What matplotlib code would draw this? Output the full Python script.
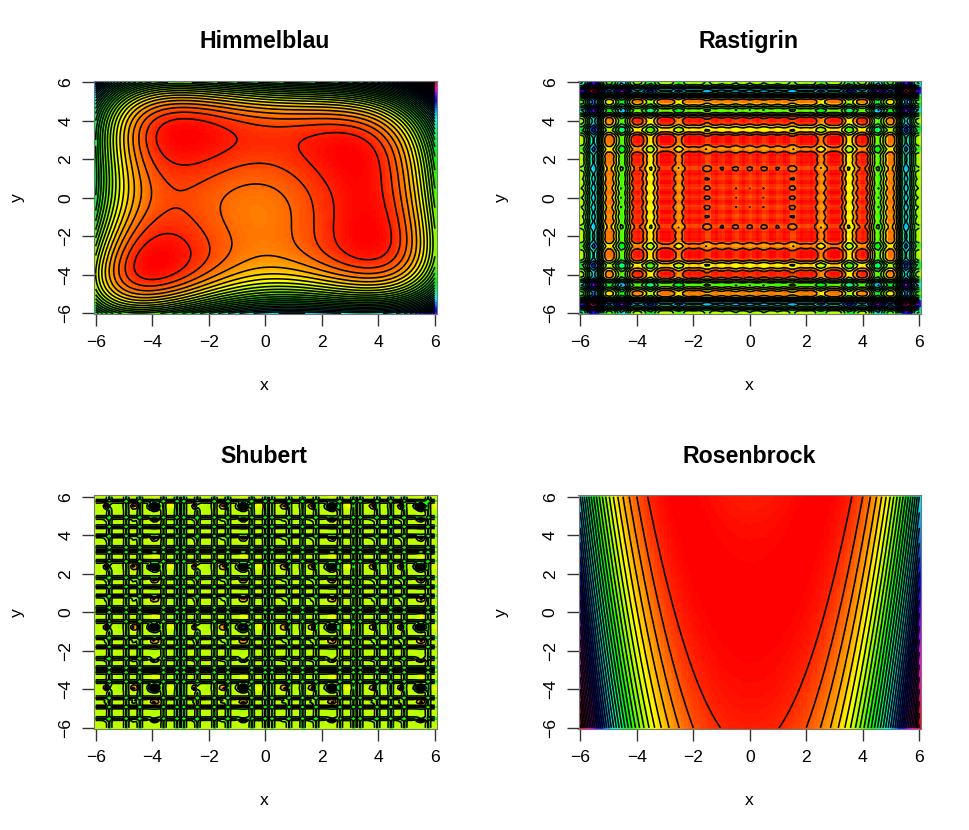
import numpy as np
import matplotlib
matplotlib.use('Agg')
import matplotlib.pyplot as plt
from matplotlib.colors import hsv_to_rgb, ListedColormap

titles = ['Himmelblau', 'Rastigrin', 'Shubert', 'Rosenbrock']
tick_values = [-6, -4, -2, 0, 2, 4, 6]
level_steps = [50, 200, 10, 5000]
level_offsets = [0, 0, 3, 0]
grid_points = 101

# Shubert features per period of pi, as distance from the big spots
shubert_origin = -3.92
spot_offset = [0.0, 0.57, 1.45, 2.00, 2.43]
spot_height = [1.0, -0.05, -0.27, 0.025, -0.27]
spot_width = [0.095, 0.12, 0.07, 0.10, 0.07]
band_offset = [0.30, 0.78, 1.01, 1.57, 2.10, 2.60]
band_height = 14.0
spot_scale = 100.0

x = np.linspace(-6, 6, grid_points)
X, Y = np.meshgrid(x, x)

def bumps(t, centres, heights, widths):
    out = np.zeros_like(t)
    for c, h, w in zip(centres, heights, widths):
        d = np.mod(t - shubert_origin - c + np.pi / 2, np.pi) - np.pi / 2
        out += h * np.exp(-0.5 * (d / w) ** 2)
    return out

def band_profile(axis):
    out = np.zeros_like(axis)
    for c in band_offset:
        for k in range(-2, 4):
            pos = shubert_origin + c + k * np.pi
            if axis[0] <= pos <= axis[-1]:
                out[np.argmin(np.abs(axis - pos))] = band_height
    return out

def rast(t):
    return (t ** 2 - 10 * np.cos(2 * np.pi * t)) ** 2

spots_x = bumps(X, spot_offset, spot_height, spot_width)
spots_y = bumps(Y, spot_offset, spot_height, spot_width)
band_1d = band_profile(x)
bands = np.maximum(band_1d[np.newaxis, :], band_1d[:, np.newaxis])

surfaces = [
    (X ** 2 + Y - 11) ** 2 + (X + Y ** 2 - 7) ** 2,
    rast(X) + rast(Y),
    spot_scale * spots_x * spots_y + bands,
    (1 - X) ** 2 + 100 * (Y - X ** 2) ** 2,
]

n = 256
rainbow = ListedColormap(hsv_to_rgb(np.c_[np.arange(n) / n, np.ones(n), np.ones(n)]))

W, H = 969, 830
lefts = [94, 578.5, 94, 578.5]
tops = [81, 81, 495.5, 495.5]
aw, ah = 342.5, 233.5

plt.rcParams['font.family'] = ['Liberation Sans', 'DejaVu Sans']
fig = plt.figure(figsize=(W / 100, H / 100), dpi=100)
half = (x[1] - x[0]) / 2
for title, Z, step, off, l, t in zip(titles, surfaces, level_steps, level_offsets, lefts, tops):
    ax = fig.add_axes([l / W, 1 - (t + ah) / H, aw / W, ah / H])
    ax.imshow(Z, origin='lower', extent=[-6 - half, 6 + half, -6 - half, 6 + half],
              aspect='auto', cmap=rainbow, interpolation='nearest')
    levels = np.arange(np.floor(Z.min() / step) * step + off, Z.max() + step, step)
    ax.contour(X, Y, Z, levels=levels, colors='black', linewidths=1.15, linestyles='solid')
    ax.set_xlim(-6 - half, 6 + half)
    ax.set_ylim(-6 - half, 6 + half)
    ax.set_xticks(tick_values)
    ax.set_yticks(tick_values)
    labels = [str(v).replace('-', '\u2212') for v in tick_values]
    ax.set_xticklabels(labels)
    ax.set_yticklabels(labels, rotation=90, va='center')
    ax.tick_params(axis='both', length=8.5, width=1.0, color='#333333', labelsize=12.6, pad=6.5)
    for s in ax.spines.values():
        s.set_color('#777777')
        s.set_linewidth(0.8)
    fig.text((l + aw / 2 - 1) / W, 1 - (t - 39.5) / H, title, ha='center', va='center',
             fontsize=16.7, fontweight='bold')
    fig.text((l + aw / 2 - 1) / W, 1 - (t + ah + 71) / H, 'x', ha='center', va='center', fontsize=12.6)
    fig.text((l - 77) / W, 1 - (t + ah / 2) / H, 'y', ha='center', va='center', rotation=90, fontsize=12.6)

fig.savefig('out.png', dpi=100)
